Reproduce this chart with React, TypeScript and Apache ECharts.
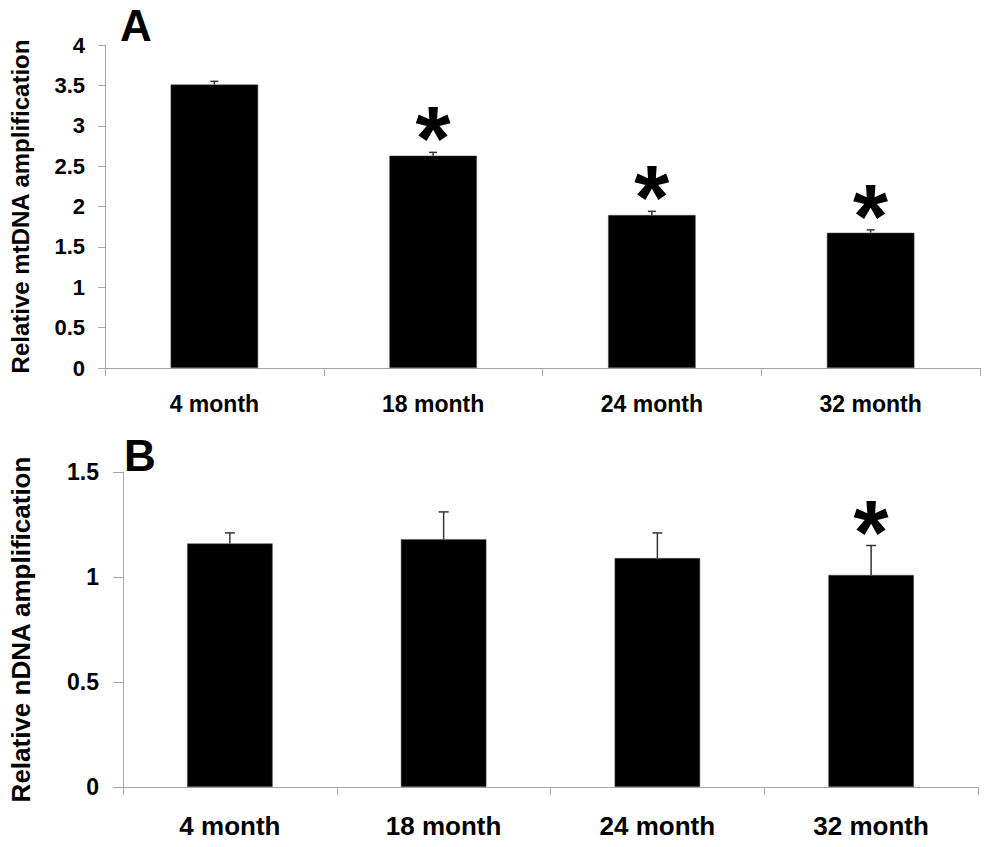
import React, { useEffect, useRef } from "react";
import * as echarts from "echarts";

const categories = ["4 month", "18 month", "24 month", "32 month"];

const mtDNAValues = [3.51, 2.63, 1.895, 1.675];
const mtDNAErrors = [0.04, 0.04, 0.045, 0.035];
const mtDNASignificant = [0, 1, 1, 1];
const mtDNAAxis = { min: 0, max: 4, interval: 0.5 };

const nDNAValues = [1.16, 1.18, 1.09, 1.01];
const nDNAErrors = [0.05, 0.13, 0.12, 0.14];
const nDNASignificant = [0, 0, 0, 1];
const nDNAAxis = { min: 0, max: 1.5, interval: 0.5 };

const panelLabels = ["A", "B"];
const yTitles = ["Relative mtDNA amplification", "Relative nDNA amplification"];

const FONT = "'Liberation Sans', Arial, Helvetica, sans-serif";
const AXIS_GRAY = "#a6a6a6";

function makeErrorRenderer(capHalf: number, starSize: number) {
  return (params: any, api: any) => {
    const idx = api.value(0);
    const v = api.value(1);
    const e = api.value(2);
    const sig = api.value(3);
    const base = api.coord([idx, v]);
    const top = api.coord([idx, v + e]);
    const children: any[] = [
      {
        type: "line",
        shape: { x1: base[0], y1: base[1], x2: top[0], y2: top[1] },
        style: { stroke: "#333", lineWidth: 1.5 },
      },
      {
        type: "line",
        shape: { x1: top[0] - capHalf, y1: top[1], x2: top[0] + capHalf, y2: top[1] },
        style: { stroke: "#333", lineWidth: 1.5 },
      },
    ];
    if (sig) {
      children.push({
        type: "text",
        x: top[0],
        y: top[1] - 13,
        style: {
          text: "*",
          fontSize: starSize,
          fontWeight: "bold",
          fontFamily: FONT,
          fill: "#000",
          align: "center",
          verticalAlign: "middle",
        },
      });
    }
    return { type: "group", children };
  };
}

export default function App() {
  const ref = useRef<HTMLDivElement>(null);

  useEffect(() => {
    if (!ref.current) return;
    const chart = echarts.init(ref.current, undefined, { renderer: "svg" });

    const errData = (vals: number[], errs: number[], sig: number[]) =>
      vals.map((v, i) => [i, v, errs[i], sig[i]]);

    const xAxisCommon = (gridIndex: number, fontSize: number, margin: number) => ({
      type: "category",
      gridIndex,
      data: categories,
      boundaryGap: true,
      axisLine: { show: true, lineStyle: { color: AXIS_GRAY, width: 1 } },
      axisTick: { show: true, alignWithLabel: false, length: 8, lineStyle: { color: AXIS_GRAY } },
      axisLabel: {
        color: "#000",
        fontSize,
        fontWeight: "bold",
        fontFamily: FONT,
        margin,
      },
      splitLine: { show: false },
    });

    const yAxisCommon = (
      gridIndex: number,
      ax: { min: number; max: number; interval: number },
      name: string,
      fontSize: number,
      margin: number,
      tickLen: number,
      nameSize: number,
      nameGap: number
    ) => ({
      type: "value",
      gridIndex,
      min: ax.min,
      max: ax.max,
      interval: ax.interval,
      name,
      nameLocation: "middle",
      nameRotate: 90,
      nameGap,
      nameTextStyle: { color: "#000", fontSize: nameSize, fontWeight: "bold", fontFamily: FONT },
      axisLine: { show: true, lineStyle: { color: AXIS_GRAY, width: 1 } },
      axisTick: { show: true, length: tickLen, lineStyle: { color: AXIS_GRAY } },
      axisLabel: {
        color: "#000",
        fontSize,
        fontWeight: "bold",
        fontFamily: FONT,
        margin,
      },
      splitLine: { show: false },
    });

    chart.setOption({
      animation: false,
      backgroundColor: "#fff",
      grid: [
        { left: 104, top: 45, width: 876, height: 323 },
        { left: 118, top: 472, width: 860, height: 315 },
      ],
      xAxis: [xAxisCommon(0, 23, 24), xAxisCommon(1, 26, 26)],
      yAxis: [
        yAxisCommon(0, mtDNAAxis, yTitles[0], 22, 20, 7, 24, 73),
        yAxisCommon(1, nDNAAxis, yTitles[1], 23, 24, 10, 26, 89),
      ],
      graphic: [
        {
          type: "text",
          left: 120,
          top: 3,
          style: { text: panelLabels[0], fontSize: 44, fontWeight: "bold", fontFamily: FONT, fill: "#000" },
        },
        {
          type: "text",
          left: 124,
          top: 433,
          style: { text: panelLabels[1], fontSize: 44, fontWeight: "bold", fontFamily: FONT, fill: "#000" },
        },
      ],
      series: [
        {
          type: "bar",
          xAxisIndex: 0,
          yAxisIndex: 0,
          data: mtDNAValues,
          barWidth: "40%",
          itemStyle: { color: "#000", borderColor: "#555", borderWidth: 0.5 },
        },
        {
          type: "custom",
          xAxisIndex: 0,
          yAxisIndex: 0,
          data: errData(mtDNAValues, mtDNAErrors, mtDNASignificant),
          encode: { x: 0, y: 1 },
          renderItem: makeErrorRenderer(4, 90),
          z: 5,
        },
        {
          type: "bar",
          xAxisIndex: 1,
          yAxisIndex: 1,
          data: nDNAValues,
          barWidth: "40%",
          itemStyle: { color: "#000", borderColor: "#555", borderWidth: 0.5 },
        },
        {
          type: "custom",
          xAxisIndex: 1,
          yAxisIndex: 1,
          data: errData(nDNAValues, nDNAErrors, nDNASignificant),
          encode: { x: 0, y: 1 },
          renderItem: makeErrorRenderer(5, 90),
          z: 5,
        },
      ],
    });

    return () => chart.dispose();
  }, []);

  return (
    <div
      ref={ref}
      style={{ position: "fixed", left: 0, top: 0, width: 1000, height: 847, background: "#fff" }}
    />
  );
}
